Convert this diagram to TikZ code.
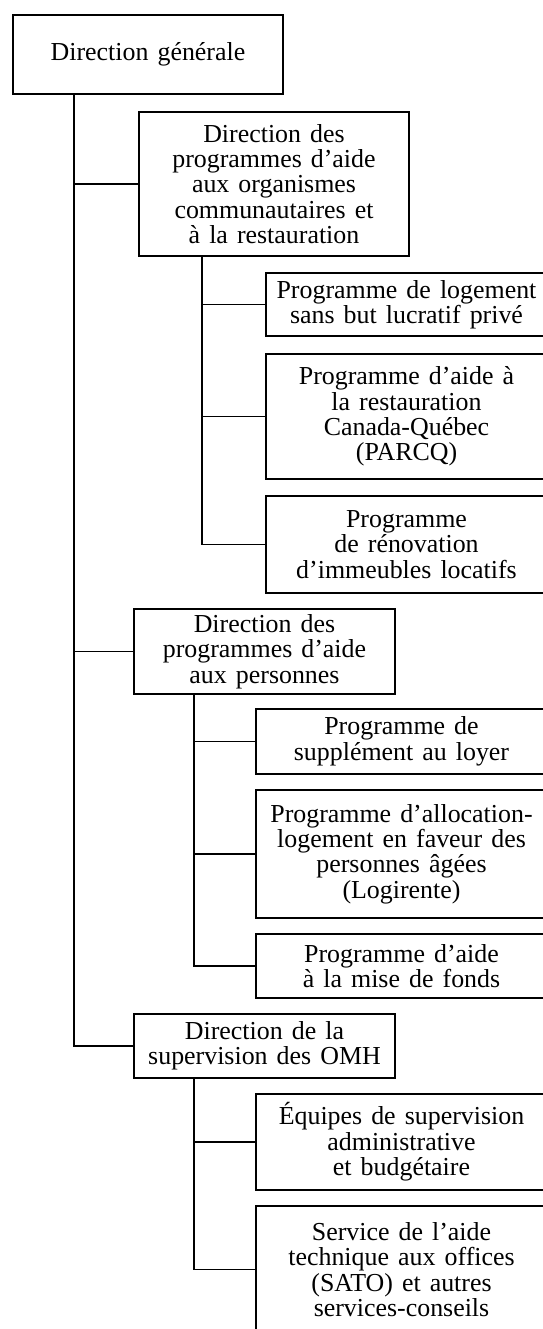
\documentclass[tikz,border=0pt]{standalone}
\usepackage{fontspec}
\setmainfont{Liberation Serif}[WordSpace=1.4]
\begin{document}
\begin{tikzpicture}[x=1bp, y=-1bp,
    box/.style={draw, line width=2bp, align=center, inner sep=0pt, anchor=north west,
        font=\fontsize{26}{25.5}\selectfont},
    link/.style={line width=1.5bp}]
    \useasboundingbox (0,0) rectangle (543,1329);
    \clip (0,0) rectangle (543,1329);
    \coordinate (t) at (74,0);
    \coordinate (s1) at (202,0);
    \coordinate (s2) at (194,0);
    \node[box, minimum width=270bp, minimum height=79bp] (dg) at (12,14) {Direction générale};
    \node[box, minimum width=270bp, minimum height=144bp] (dpaoc) at (138,111)
        {Direction des\\programmes d’aide\\aux organismes\\communautaires et\\à la restauration};
    \node[box, minimum width=281bp, minimum height=63bp] (plsbl) at (265,272)
        {Programme de logement\\sans but lucratif privé};
    \node[box, minimum width=281bp, minimum height=125bp] (parcq) at (265,353)
        {Programme d’aide à\\la restauration\\Canada-Québec\\(PARCQ)};
    \node[box, minimum width=281bp, minimum height=97bp] (renov) at (265,495)
        {Programme\\de rénovation\\d’immeubles locatifs};
    \node[box, minimum width=261bp, minimum height=85bp] (dpap) at (133,608)
        {Direction des\\programmes d’aide\\aux personnes};
    \node[box, minimum width=291bp, minimum height=65bp] (supp) at (255,708)
        {Programme de\\supplément au loyer};
    \node[box, minimum width=291bp, minimum height=128bp] (logi) at (255,789)
        {Programme d’allocation-\\logement en faveur des\\personnes âgées\\(Logirente)};
    \node[box, minimum width=291bp, minimum height=64bp] (fonds) at (255,933)
        {Programme d’aide\\à la mise de fonds};
    \node[box, minimum width=261bp, minimum height=64bp] (omh) at (133,1013)
        {Direction de la\\supervision des OMH};
    \node[box, minimum width=291bp, minimum height=96bp] (equip) at (255,1093)
        {Équipes de supervision\\administrative\\et budgétaire};
    \node[box, minimum width=291bp, minimum height=127bp] (sato) at (255,1205)
        {Service de l’aide\\technique aux offices\\(SATO) et autres\\services-conseils};
    \draw[link] (t |- dg.south) |- (omh.west);
    \foreach \n in {dpaoc,dpap}
        \draw[link] (t |- \n.west) -- (\n.west);
    \draw[link] (s1 |- dpaoc.south) |- (renov.west);
    \foreach \n in {plsbl,parcq}
        \draw[link] (s1 |- \n.west) -- (\n.west);
    \draw[link] (s2 |- dpap.south) |- (fonds.west);
    \foreach \n in {supp,logi}
        \draw[link] (s2 |- \n.west) -- (\n.west);
    \draw[link] (s2 |- omh.south) |- (sato.west);
    \draw[link] (s2 |- equip.west) -- (equip.west);
\end{tikzpicture}
\end{document}
